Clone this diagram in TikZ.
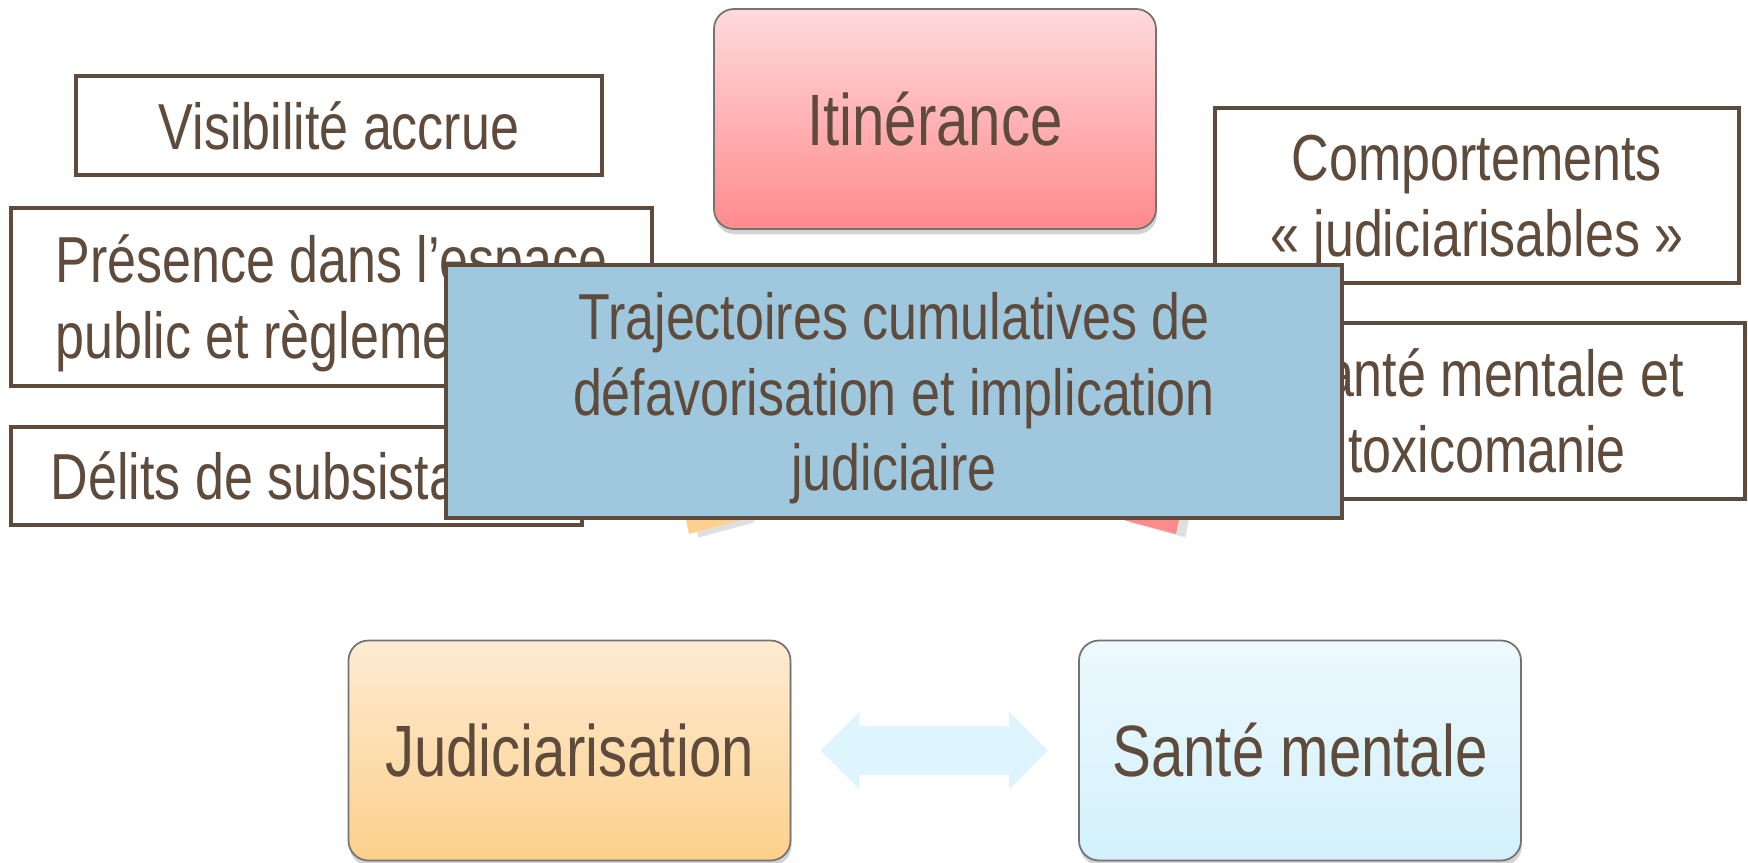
\documentclass[tikz,border=0pt]{standalone}
\usepackage{fontspec}
\setmainfont{Liberation Sans}[FakeStretch=0.8]
\usetikzlibrary{shadows,arrows.meta}
\definecolor{brun}{HTML}{5E4B3C}
\definecolor{bleucentre}{HTML}{9FC7DD}
\definecolor{roseclair}{HTML}{FFDADC}
\definecolor{rosefonce}{HTML}{FF8A8C}
\definecolor{orangeclair}{HTML}{FEEBD3}
\definecolor{orangefonce}{HTML}{FDD08B}
\definecolor{cyanclair}{HTML}{EDF9FE}
\definecolor{cyanfonce}{HTML}{D3F1FC}
\definecolor{cyanfleche}{HTML}{DEF5FD}
\begin{document}
\begin{tikzpicture}[
  txt/.style={text=brun,font=\fontsize{18.5}{21.6}\selectfont,align=center,inner sep=0pt},
  petit/.style={txt,draw=brun,line width=1.3pt,fill=white,text depth=0pt},
  grand/.style={txt,font=\fontsize{20.7}{24}\selectfont,rounded corners=0.2cm,
    draw=black!55,line width=0.5pt,minimum width=4.42cm,minimum height=2.2cm,
    drop shadow={shadow xshift=0.3pt,shadow yshift=-1.5pt,opacity=0.35}},
  fleche/.style={draw=cyanfleche,line width=0.49cm,
    {Triangle[length=0.39cm,width=0.75cm]}-{Triangle[length=0.39cm,width=0.75cm]}}]

\useasboundingbox (0,0) rectangle (17.48,-8.62);

\node[grand,top color=roseclair,bottom color=rosefonce] (itin) at (9.35,-1.19) {Itinérance};
\node[grand,top color=orangeclair,bottom color=orangefonce] (judic) at (5.695,-7.505) {Judiciarisation};
\node[grand,top color=cyanclair,bottom color=cyanfonce] (sante) at (13.0,-7.505) {Santé mentale};

\draw[fleche] ([xshift=0.29cm]judic.east) -- ([xshift=-0.30cm]sante.west);

\fill[orangefonce,drop shadow={shadow yshift=-1pt,opacity=0.25}] (6.80,-4.90) -- (6.89,-5.34) -- (7.45,-5.19) -- (7.40,-4.90) -- cycle;
\fill[rosefonce,drop shadow={shadow yshift=-1pt,opacity=0.25}] (11.85,-4.90) -- (11.76,-5.34) -- (11.20,-5.19) -- (11.25,-4.90) -- cycle;

\node[petit,minimum width=5.26cm,minimum height=0.99cm] (visib) at (3.39,-1.255) {Visibilité accrue};
\node[petit,align=left,minimum width=6.41cm,minimum height=1.78cm] (presence) at (3.315,-2.97) {Présence dans l’espace\\public et règlements};
\node[petit,minimum width=5.71cm,minimum height=0.98cm] (delits) at (2.965,-4.76) {Délits de subsistance};
\node[petit,minimum width=5.24cm,minimum height=1.75cm] (comport) at (14.77,-1.955) {Comportements\\« judiciarisables »};
\node[petit,minimum width=5.16cm,minimum height=1.76cm] (santetox) at (14.87,-4.11) {Santé mentale et\\toxicomanie};

\node[petit,fill=bleucentre,minimum width=8.96cm,minimum height=2.53cm] (traject) at (8.94,-3.915) {Trajectoires cumulatives de\\défavorisation et implication\\judiciaire};
\end{tikzpicture}
\end{document}
